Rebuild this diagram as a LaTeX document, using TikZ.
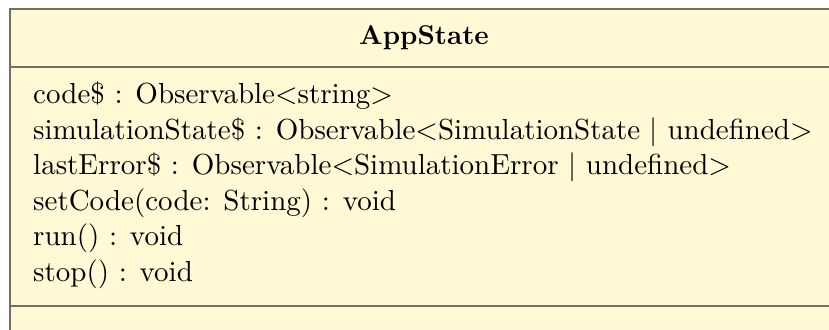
\documentclass[tikz,border=0pt]{standalone}
\usepackage{fontspec}
\usepackage{graphicx}
\definecolor{classfill}{RGB}{255,249,214}
\definecolor{classline}{RGB}{112,112,96}
% text is set at 10pt design size and enlarged, to keep the 10pt stroke weight
\newcommand{\membertext}[1]{\scalebox{2.90}{\fontsize{10}{12}\selectfont #1}}
\newcommand{\nametext}[1]{\scalebox{2.72}{\fontsize{10}{12}\selectfont\bfseries #1}}
\tikzset{
  classbox/.style={draw=classline, fill=classfill, line width=2pt},
  divider/.style={draw=classline, line width=2pt},
  member/.style={anchor=base west, inner sep=0pt},
  classname/.style={anchor=base, inner sep=0pt}
}
\begin{document}
\begin{tikzpicture}[x=1pt, y=-1pt]
  \useasboundingbox (0,0) rectangle (829,329);
  \clip (0,0) rectangle (829,329);
  % class frame, running past the right and bottom edges
  \draw[classbox] (10,9) rectangle (838,360);
  \coordinate (hl) at (10,66.5);
  \coordinate (hr) at (838,66.5);
  \coordinate (ml) at (10,305.5);
  \coordinate (mr) at (838,305.5);
  \draw[divider] (hl) -- (hr);
  \draw[divider] (ml) -- (mr);
  % class name
  \node[classname] (name) at (424,45) {\nametext{AppState}};
  % members
  \node[member] (m1) at (33,103.5) {\membertext{code\$ : Observable$<$string$>$}};
  \node[member] (m2) at (33,139.1) {\membertext{simulationState\$ : Observable$<$SimulationState $|$ undefined$>$}};
  \node[member] (m3) at (33,174.7) {\membertext{lastError\$ : Observable$<$SimulationError $|$ undefined$>$}};
  \node[member] (m4) at (33,210.3) {\membertext{setCode(code: String) : void}};
  \node[member] (m5) at (33,245.9) {\membertext{run() : void}};
  \node[member] (m6) at (33,281.5) {\membertext{stop() : void}};
\end{tikzpicture}
\end{document}
